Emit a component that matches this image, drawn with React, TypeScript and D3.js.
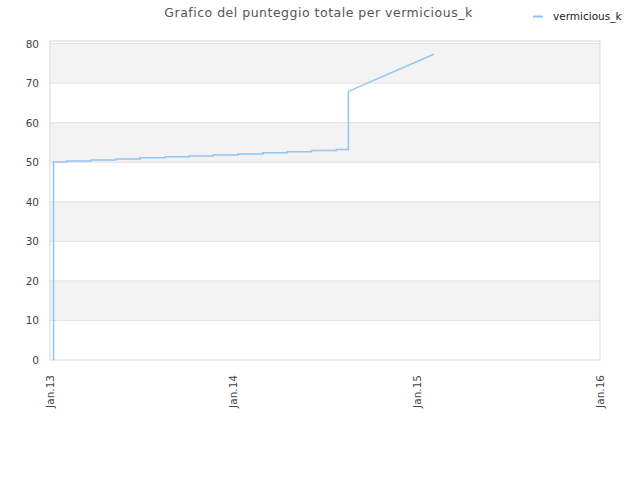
import { useMemo } from "react";
import * as d3 from "d3";

// step dates (each date carries the value before and after the change)
const dates = [
  "2013-01-08", "2013-02-03", "2013-03-23", "2013-05-12", "2013-06-29",
  "2013-08-18", "2013-10-05", "2013-11-22", "2014-01-10", "2014-03-01",
  "2014-04-18", "2014-06-06", "2014-07-25", "2014-08-18", "2015-02-04",
];
const before = [0, 50.05, 50.3, 50.55, 50.8, 51.15, 51.4, 51.6, 51.85, 52.1, 52.4, 52.65, 52.95, 53.2, 77.3];
const after = [50.05, 50.3, 50.55, 50.8, 51.15, 51.4, 51.6, 51.85, 52.1, 52.4, 52.65, 52.95, 53.2, 67.9, 77.3];
const yTicks = [0, 10, 20, 30, 40, 50, 60, 70, 80];
const xTicks = ["2013-01-01", "2014-01-01", "2015-01-01", "2016-01-01"];
const xTickLabels = ["Jan.13", "Jan.14", "Jan.15", "Jan.16"];
const seriesName = "vermicious_k";

const FONT = "'DejaVu Sans', Verdana, sans-serif";
const LINE = "#93c4f3";

export default function App() {
  const width = 640;
  const height = 480;
  const margin = { top: 41, right: 40, bottom: 120, left: 50 };

  const parse = d3.timeParse("%Y-%m-%d");

  const x = useMemo(() =>
    d3.scaleTime()
      .domain([parse(xTicks[0])!, parse(xTicks[xTicks.length - 1])!])
      .range([margin.left, width - margin.right]),
  // eslint-disable-next-line react-hooks/exhaustive-deps
  []);

  const y = useMemo(() =>
    d3.scaleLinear().domain([0, 80.65]).range([height - margin.bottom, margin.top]),
  // eslint-disable-next-line react-hooks/exhaustive-deps
  []);

  const points: [Date, number][] = [];
  dates.forEach((d, i) => {
    const t = parse(d)!;
    points.push([t, before[i]]);
    if (after[i] !== before[i]) points.push([t, after[i]]);
  });

  const line = d3.line<[Date, number]>()
    .x((p) => x(p[0]))
    .y((p) => y(p[1]));

  const plotW = width - margin.left - margin.right;

  return (
    <svg width={width} height={height} style={{ position: "absolute", left: 0, top: 0, background: "white" }}>
      <text x={318.5} y={17} textAnchor="middle" fontFamily={FONT} fontSize={12.5} letterSpacing={0.5} fill="#555">
        Grafico del punteggio totale per vermicious_k
      </text>

      {/* legend */}
      <line x1={533} x2={543} y1={16.5} y2={16.5} stroke={LINE} strokeWidth={2} />
      <text x={553} y={20} fontFamily={FONT} fontSize={10.5} fill="#222">{seriesName}</text>

      {/* bands */}
      {yTicks.map((t, i) => {
        const top = i === yTicks.length - 1 ? y.domain()[1] : yTicks[i + 1];
        return (
          <rect key={t} x={margin.left} y={y(top)} width={plotW} height={y(t) - y(top)}
            fill={i % 2 === 1 ? "#f3f3f3" : "white"} />
        );
      })}
      {yTicks.slice(1).map((t) => (
        <line key={t} x1={margin.left} x2={width - margin.right} y1={y(t)} y2={y(t)} stroke="#e2e2e2" />
      ))}
      <rect x={margin.left} y={margin.top} width={plotW} height={y(0) - margin.top}
        fill="none" stroke="#d8d8d8" />

      {yTicks.map((t) => (
        <text key={t} x={39} y={y(t) + 4} textAnchor="end" fontFamily={FONT} fontSize={10.5} fill="#444">{t}</text>
      ))}

      {xTicks.map((t, i) => {
        const px = x(parse(t)!);
        return (
          <text key={t} transform={`translate(${px + 4},${y(0) + 15}) rotate(-90)`} textAnchor="end"
            fontFamily={FONT} fontSize={10.5} fill="#444">{xTickLabels[i]}</text>
        );
      })}

      <path d={line(points) ?? ""} fill="none" stroke={LINE} strokeWidth={1.5} />
    </svg>
  );
}
